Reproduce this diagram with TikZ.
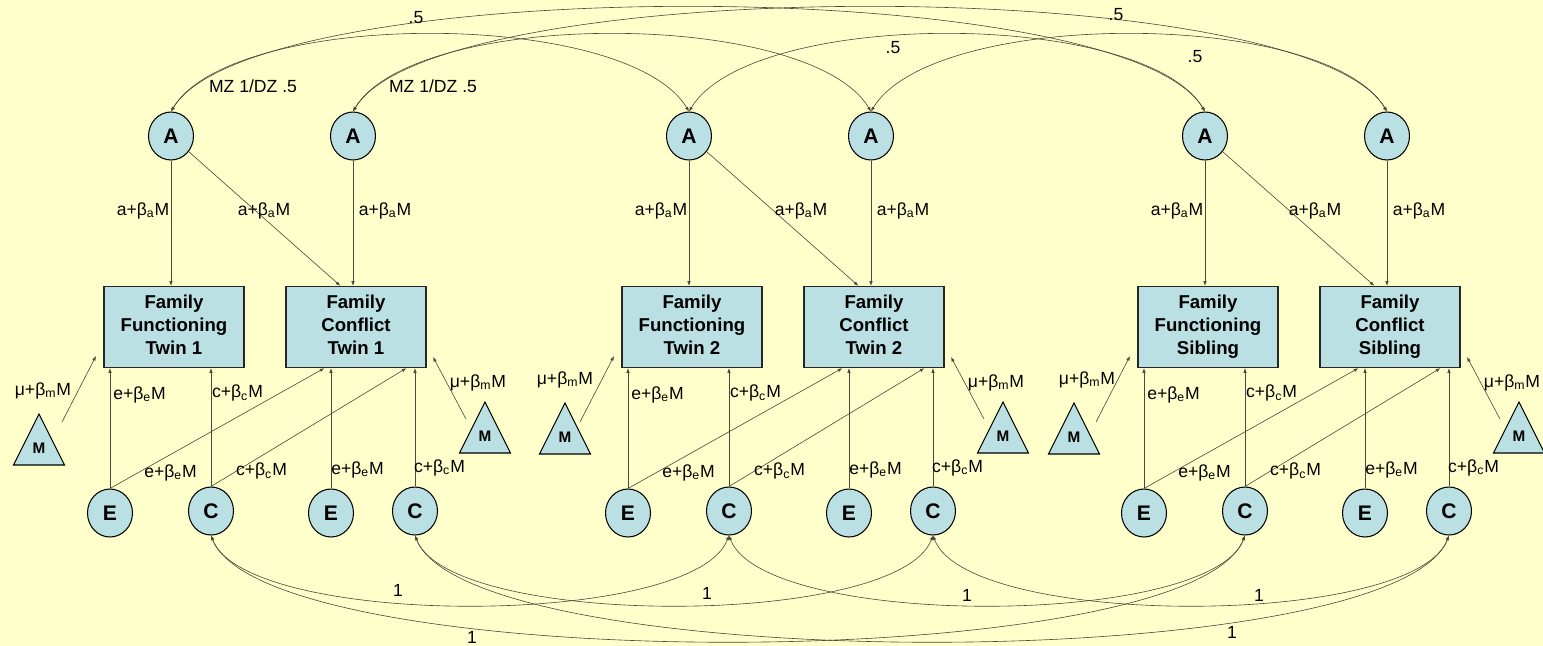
\documentclass[tikz,border=0pt]{standalone}
\usepackage{fontspec}
\setmainfont{Liberation Sans}
\usetikzlibrary{calc,arrows.meta,shapes.geometric}

\definecolor{paper}{HTML}{FFFFCC}
\definecolor{nodefill}{HTML}{BBE0E3}
\definecolor{linkcol}{HTML}{4A4A3C}

\tikzset{
  lat/.style={ellipse, draw=black, line width=0.6pt, fill=nodefill,
    minimum width=0.9cm, minimum height=0.96cm, inner sep=0pt,
    font=\fontsize{12}{12}\selectfont\bfseries},
  obs/.style={rectangle, draw=black!85, line width=0.8pt, fill=nodefill,
    minimum width=2.8cm, minimum height=1.62cm, inner sep=0pt, align=center,
    font=\fontsize{10.6}{13}\selectfont\bfseries},
  mtri/.style={draw=black, line width=0.6pt, fill=nodefill},
  mlab/.style={inner sep=0pt, font=\fontsize{8.7}{9}\selectfont\bfseries},
  link/.style={draw=linkcol, line width=0.35pt, -{Latex[length=2.6pt,width=2pt]}},
  cov/.style={draw=linkcol, line width=0.35pt,
    {Latex[length=2.6pt,width=2pt]}-{Latex[length=2.6pt,width=2pt]}},
  lbl/.style={inner sep=0pt, anchor=base, font=\fontsize{10}{12}\selectfont},
}

\begin{document}
\begin{tikzpicture}[x=0.02cm, y=-0.02cm]
  % canvas, 1 unit = 1 px
  \fill[paper] (0,0) rectangle (1543,646);
  \useasboundingbox (0,0) rectangle (1543,646);

  % One block per person: (index/box left edge/who/left M x/left M y/mu label x/mu baseline/diag a label x)
  \foreach \g/\bx/\who/\mx/\my/\ux/\uy/\dx in {%
    1/104/Twin 1/39/439.5/43/395/264,
    2/622/Twin 2/565/428.5/565/384/801,
    3/1138/Sibling/1074/428.5/1087/384/1315%
  } {%
    % observed variables
    \node[obs] (FF\g) at (\bx+70,327) {\strut Family\\Functioning\\\who\strut};
    \node[obs] (FC\g) at (\bx+252,327) {\strut Family\\Conflict\\\who\strut};
    % latent factors
    \node[lat] (AF\g) at (\bx+67,136) {A};
    \node[lat] (AC\g) at (\bx+249,136) {A};
    \node[lat] (EF\g) at (\bx+6,513) {E};
    \node[lat] (CF\g) at (\bx+107,511) {C};
    \node[lat] (EC\g) at (\bx+227,513) {E};
    \node[lat] (CC\g) at (\bx+311,511) {C};
    % moderator
    \draw[mtri] (\mx-25.5,\my+25.5) -- (\mx,\my-25.5) -- (\mx+25.5,\my+25.5) -- cycle;
    \node[mlab] (ML\g) at (\mx,\my+9) {M};
    \draw[mtri] (\bx+355.5,453) -- (\bx+381,402) -- (\bx+406.5,453) -- cycle;
    \node[mlab] (MR\g) at (\bx+381,436) {M};
    \coordinate (MLt\g) at (\bx-42,422);
    \coordinate (MLh\g) at (\bx-8,356);
    \coordinate (MRt\g) at (\bx+362,419);
    \coordinate (MRh\g) at (\bx+329,357);

    % paths
    \draw[link] (AF\g) -- (AF\g |- FF\g.north);
    \draw[link] (AF\g) -- ($(FC\g.north west)+(55,0)$);
    \draw[link] (AC\g) -- (AC\g |- FC\g.north);
    \draw[link] (EF\g) -- (EF\g |- FF\g.south);
    \draw[link] (CF\g) -- (CF\g |- FF\g.south);
    \draw[link] (EF\g.north) -- ($(FC\g.south west)+(39,0)$);
    \draw[link] (CF\g.north) -- ($(FC\g.south west)+(121,0)$);
    \draw[link] (EC\g) -- (EC\g |- FC\g.south);
    \draw[link] (CC\g) -- (CC\g |- FC\g.south);
    \draw[link] (MLt\g) -- (MLh\g);
    \draw[link] (MRt\g) -- (MRh\g);

    % path labels
    \node[lbl] (la\g) at (\bx+39,215) {a+β\textsubscript{a}M};
    \node[lbl] (lb\g) at (\dx,215) {a+β\textsubscript{a}M};
    \node[lbl] (lc\g) at (\bx+281,215) {a+β\textsubscript{a}M};
    \node[lbl] (le\g) at (\bx+35.5,399) {e+β\textsubscript{e}M};
    \node[lbl] (lf\g) at (\bx+133.5,397.5) {c+β\textsubscript{c}M};
    \node[lbl] (lg\g) at (\bx+66.5,477) {e+β\textsubscript{e}M};
    \node[lbl] (lh\g) at (\bx+157.5,475.5) {c+β\textsubscript{c}M};
    \node[lbl] (li\g) at (\bx+253.5,474) {e+β\textsubscript{e}M};
    \node[lbl] (lj\g) at (\bx+335.5,472) {c+β\textsubscript{c}M};
    \node[lbl] (lm\g) at (\ux,\uy) {μ+β\textsubscript{m}M};
    \node[lbl] (ln\g) at (\bx+374,387) {μ+β\textsubscript{m}M};
  }

  % genetic correlations
  \foreach \p/\q/\a/\h in {AF1/AF2/62/103, AC1/AC2/62/103, AF2/AF3/62/103,
                           AC2/AC3/62/103, AF1/AF3/83/139, AC1/AC3/83/139}
    \draw[cov] (\p.north) .. controls +(\a,-\h) and +(-\a,-\h) .. (\q.north);
  \node[lbl] (mz1) at (253,92) {MZ 1/DZ .5};
  \node[lbl] (mz2) at (433,92) {MZ 1/DZ .5};
  \node[lbl] (ha1) at (416,23) {.5};
  \node[lbl] (ha2) at (1116,20) {.5};
  \node[lbl] (ha3) at (893,53) {.5};
  \node[lbl] (ha4) at (1195,62) {.5};

  % shared environment correlations
  \foreach \p/\q/\a/\h in {CF1/CF2/35/93, CC1/CC2/35/93, CF2/CF3/35/93,
                           CC2/CC3/35/93, CF1/CF3/55/141, CC1/CC3/55/141}
    \draw[cov] (\p.south) .. controls +(\a,\h) and +(-\a,\h) .. (\q.south);
  \node[lbl] (one1) at (398,596) {1};
  \node[lbl] (one2) at (707,599) {1};
  \node[lbl] (one3) at (967,601) {1};
  \node[lbl] (one4) at (1259,601) {1};
  \node[lbl] (one5) at (472,643) {1};
  \node[lbl] (one6) at (1232,638) {1};
\end{tikzpicture}
\end{document}
